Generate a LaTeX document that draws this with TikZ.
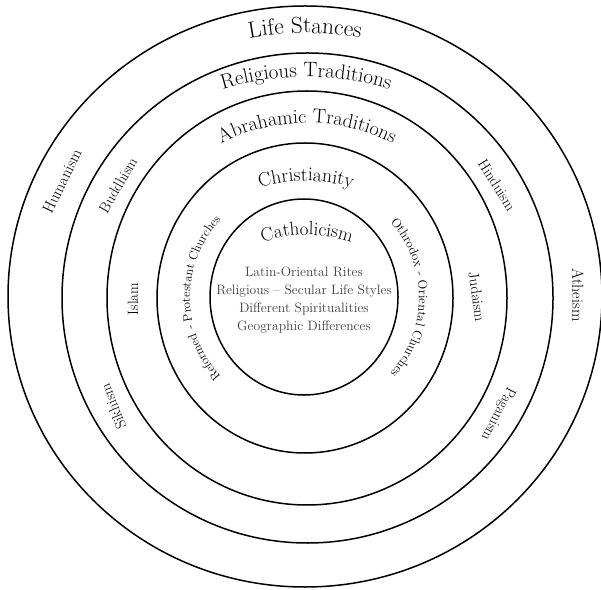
\documentclass[tikz,border=0pt]{standalone}
\usetikzlibrary{decorations.text}
\begin{document}
\begin{tikzpicture}[x=1pt,y=1pt,
  ring/.style={line width=1.5pt},
  sidelabel/.style={inner sep=0pt, font=\fontsize{15}{18}\selectfont},
  outerlabel/.style={inner sep=0pt, font=\fontsize{16}{19}\selectfont}]
\useasboundingbox (0,0) rectangle (601,589);

% concentric rings, outermost first
\draw[ring] (305,292.5) ellipse[x radius=297,  y radius=290.5];
\draw[ring] (307.5,291) ellipse[x radius=245.5, y radius=245];
\draw[ring] (307,291)   ellipse[x radius=200,  y radius=207];
\draw[ring] (305,291)   ellipse[x radius=148,  y radius=155];
\draw[ring] (304,292)   ellipse[x radius=94,   y radius=98];

% ring titles set along arcs
\path[decorate, decoration={text along path, text align=center,
  text={|\fontsize{23.2}{27}\selectfont|Life Stances}}]
  (305,256) ++(120:300) arc[start angle=120, end angle=60, radius=300];
\path[decorate, decoration={text along path, text align=center,
  text={|\fontsize{20.9}{25}\selectfont|Religious Traditions}}]
  (306,222) ++(130:290) arc[start angle=130, end angle=50, radius=290];
\path[decorate, decoration={text along path, text align=center,
  text={|\fontsize{20}{24}\selectfont|Abrahamic Traditions}}]
  (307,276) ++(150:190) arc[start angle=150, end angle=30, radius=190];
\path[decorate, decoration={text along path, text align=center,
  text={|\fontsize{19.5}{23}\selectfont|Christianity}}]
  (306,248) ++(140:160) arc[start angle=140, end angle=40, radius=160];
\path[decorate, decoration={text along path, text align=center,
  text={|\fontsize{19}{22}\selectfont|Catholicism}}]
  (307,214) ++(140:140) arc[start angle=140, end angle=40, radius=140];

% church families along the Christianity ring
\path[decorate, decoration={text along path, text align=center,
  text={|\fontsize{12.4}{14}\selectfont|Reformed - Protestant Churches}}]
  (305,291) ++(232:115) arc[start angle=232, end angle=128, radius=115];
\path[decorate, decoration={text along path, text align=center,
  text={|\fontsize{12.8}{15}\selectfont|Othrodox - Oriental Churches}}]
  (305,291) ++(52:114) arc[start angle=52, end angle=-52, radius=114];

% life stances
\node[outerlabel, rotate=64]  (humanism) at (62,408)  {Humanism};
\node[outerlabel, rotate=-90] (atheism)  at (578,294) {Atheism};

% religious traditions
\node[sidelabel, rotate=60]   (buddhism) at (118,404) {Buddhism};
\node[sidelabel, rotate=-58]  (hinduism) at (497,404) {Hinduism};
\node[sidelabel, rotate=112]  (sikhism)  at (113,182) {Sikhism};
\node[sidelabel, rotate=-117] (paganism) at (498,175) {Paganism};

% abrahamic traditions
\node[sidelabel, rotate=90]   (islam)    at (133,290) {Islam};
\node[sidelabel, rotate=-82]  (judaism)  at (477,292) {Judaism};

% catholic diversity
\node[align=center, text=black!75, inner sep=0pt,
      font=\fontsize{13.6}{18}\selectfont] (diversity) at (304,289)
  {Latin-Oriental Rites\\Religious -- Secular Life Styles\\Different Spiritualities\\Geographic Differences};
\end{tikzpicture}
\end{document}
